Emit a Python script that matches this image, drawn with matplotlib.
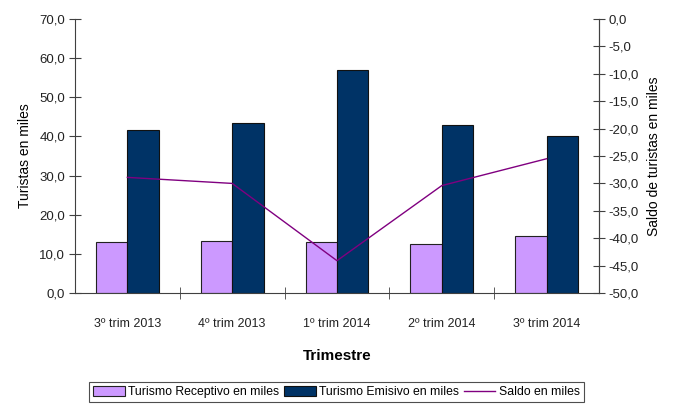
import numpy as np
import matplotlib.pyplot as plt
from matplotlib.ticker import FuncFormatter, MultipleLocator

trimestres = ["3º trim 2013", "4º trim 2013", "1º trim 2014", "2º trim 2014", "3º trim 2014"]
receptivo = [13.0, 13.3, 13.0, 12.6, 14.5]
emisivo = [41.7, 43.4, 57.1, 43.0, 40.0]
saldo = [-28.9, -30.0, -44.1, -30.4, -25.5]

plt.rcParams["font.family"] = ["Liberation Sans", "DejaVu Sans"]
axcol = "#404040"

fig = plt.figure(figsize=(6.73, 4.09), dpi=100)
ax = fig.add_axes([0.1114, 0.2836, 0.7786, 0.6699])
x = np.arange(len(trimestres))
w = 0.3
ax.bar(x - w / 2, receptivo, w, color="#CC99FF", edgecolor="#222222", linewidth=0.8,
       label="Turismo Receptivo en miles")
ax.bar(x + w / 2, emisivo, w, color="#003366", edgecolor="#111111", linewidth=0.8,
       label="Turismo Emisivo en miles")
ax.set_xlim(-0.5, len(trimestres) - 0.5)
ax.set_ylim(0, 70)
ax.yaxis.set_major_locator(MultipleLocator(10))
fmt = FuncFormatter(lambda v, p: f"{v:.1f}".replace(".", ","))
ax.yaxis.set_major_formatter(fmt)
ax.set_xticks(x)
ax.set_xticklabels(trimestres)
ax.set_xticks(np.arange(0.5, len(trimestres) - 0.5), minor=True)
ax.tick_params(axis="x", which="major", length=0, pad=18, labelsize=9, colors="#222222")
ax.tick_params(axis="x", which="minor", direction="inout", length=8, color=axcol)
ax.tick_params(axis="y", direction="inout", length=8, color=axcol, labelsize=9.5,
               labelcolor="#222222", pad=3)
ax.spines["top"].set_visible(False)
for s in ["left", "bottom", "right"]:
    ax.spines[s].set_color(axcol)
ax.set_ylabel("Turistas en miles", fontsize=10, labelpad=5)
ax.set_xlabel("Trimestre", fontsize=11, fontweight="bold", labelpad=14)

ax2 = ax.twinx()
ax2.plot(x, saldo, color="#800080", linewidth=1.0, label="Saldo en miles")
ax2.set_ylim(-50, 0)
ax2.yaxis.set_major_locator(MultipleLocator(5))
ax2.yaxis.set_major_formatter(fmt)
ax2.tick_params(axis="y", direction="inout", length=8, color=axcol, labelsize=9.5,
                labelcolor="#222222", pad=3)
ax2.spines["top"].set_visible(False)
ax2.spines["right"].set_color(axcol)
ax2.spines["left"].set_visible(False)
ax2.spines["bottom"].set_visible(False)
ax2.set_ylabel("Saldo de turistas en miles", fontsize=10, labelpad=6)

h1, l1 = ax.get_legend_handles_labels()
h2, l2 = ax2.get_legend_handles_labels()
leg = fig.legend(h1 + h2, l1 + l2, loc="center", bbox_to_anchor=(0.5, 0.0415), ncol=3,
                 fontsize=8.8, frameon=True, fancybox=False, edgecolor="#222222",
                 handlelength=2.6, handleheight=0.9, handletextpad=0.3, columnspacing=0.35,
                 borderpad=0.3)
leg.get_frame().set_linewidth(0.8)

fig.savefig("out.png", dpi=100)
